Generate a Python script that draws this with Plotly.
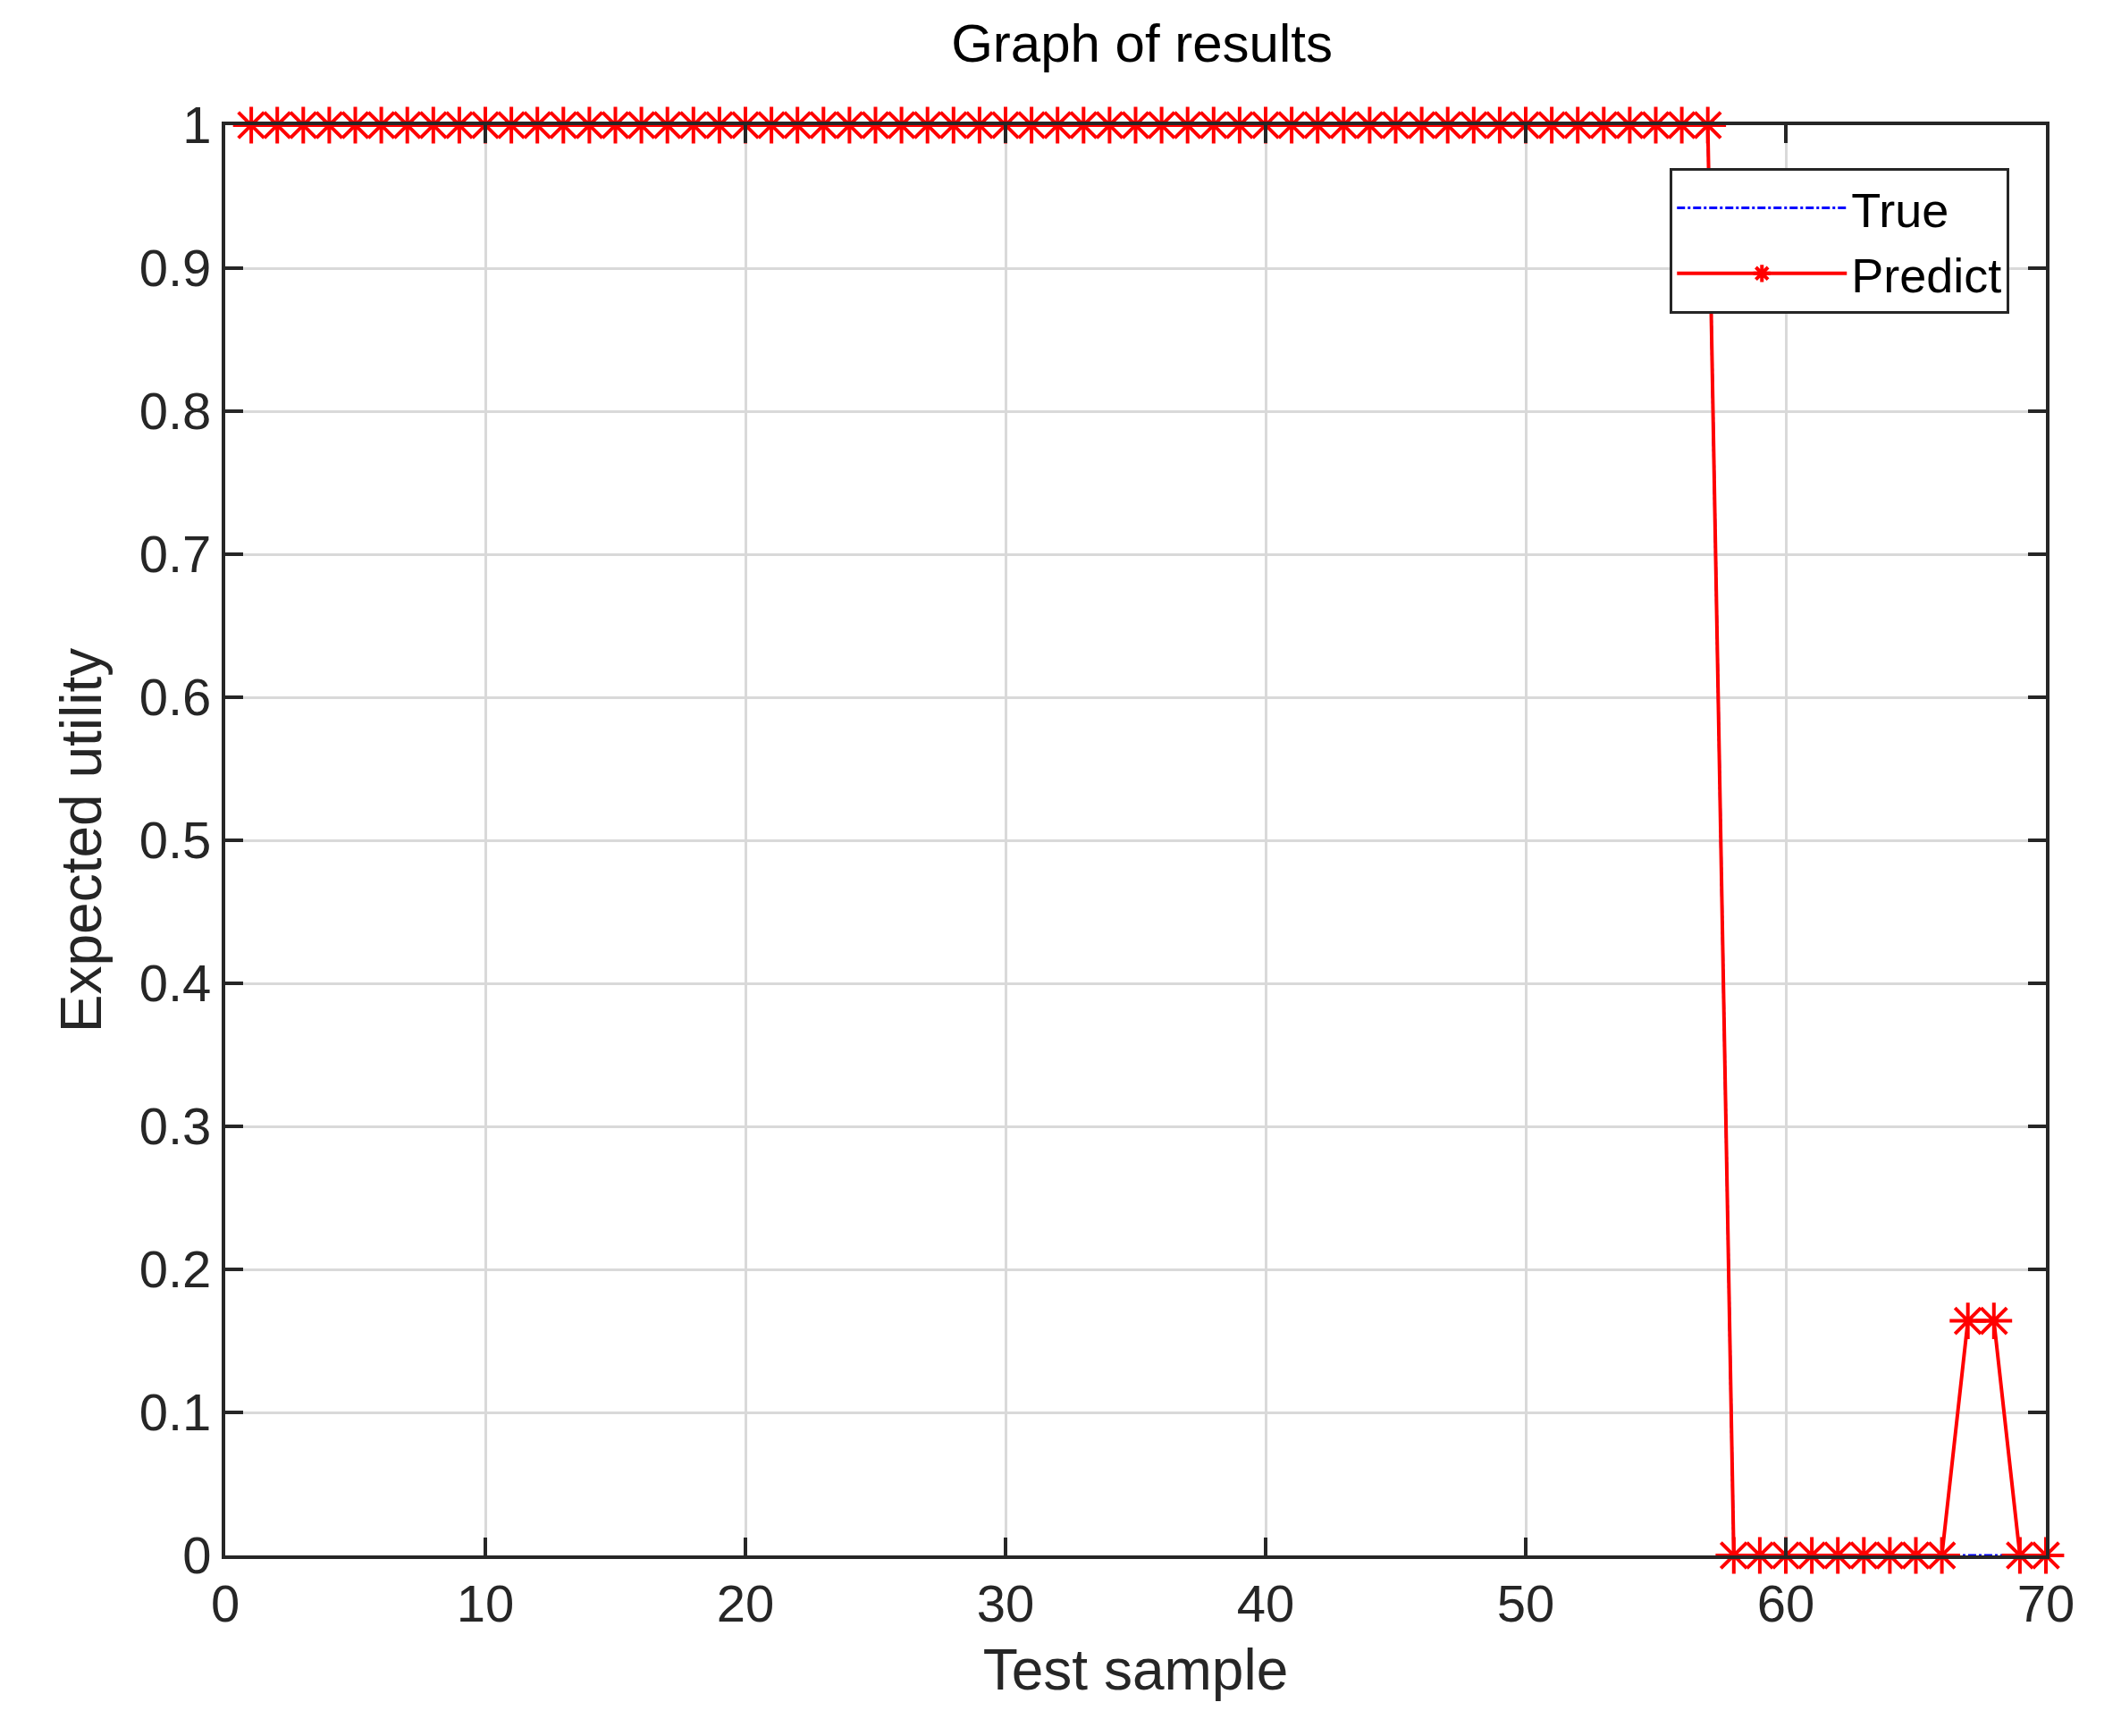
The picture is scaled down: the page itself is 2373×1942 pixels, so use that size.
import plotly.graph_objects as go

x_vals = list(range(1, 71))
true_vals = [1]*57 + [0]*13
pred_vals = [1]*57 + [0]*9 + [0.164, 0.164] + [0, 0]
x_ticks = [0, 10, 20, 30, 40, 50, 60, 70]
y_ticks = [0, 0.1, 0.2, 0.3, 0.4, 0.5, 0.6, 0.7, 0.8, 0.9, 1]
y_tick_text = ["0", "0.1", "0.2", "0.3", "0.4", "0.5", "0.6", "0.7", "0.8", "0.9", "1"]

fig = go.Figure()
fig.add_trace(go.Scatter(x=x_vals, y=true_vals, mode="lines", name="True",
                         line=dict(color="blue", width=3, dash="dashdot"), cliponaxis=False))
fig.add_trace(go.Scatter(x=x_vals, y=pred_vals, mode="lines+markers", name="Predict",
                         line=dict(color="red", width=4), cliponaxis=False,
                         marker=dict(symbol="asterisk-open", size=34,
                                     line=dict(color="red", width=4))))

font = "Liberation Sans, Arial, sans-serif"
ax = dict(showline=True, linecolor="#262626", linewidth=4, mirror="ticks",
          ticks="inside", ticklen=20, tickwidth=4, tickcolor="#262626",
          showgrid=True, gridcolor="#d9d9d9", gridwidth=3, zeroline=False,
          tickfont=dict(family=font, size=58, color="#262626"))
fig.update_xaxes(range=[0, 70], tickvals=x_ticks,
                 title=dict(text="Test sample", font=dict(family=font, size=64, color="#262626"), standoff=22), **ax)
fig.update_yaxes(range=[0, 1], tickvals=y_ticks, ticktext=y_tick_text,
                 title=dict(text="Expected utility", font=dict(family=font, size=64, color="#262626"), standoff=22), **ax)
fig.update_layout(
    width=2373, height=1942,
    margin=dict(l=244, r=92, t=132, b=210),
    paper_bgcolor="white", plot_bgcolor="white",
    title=dict(text="Graph of results", x=0.535, xanchor="center", y=0.99, yanchor="top",
               font=dict(family=font, size=60, color="black")),
    legend=dict(x=0.98, y=0.97, xanchor="right", yanchor="top",
                bordercolor="#262626", borderwidth=3, bgcolor="white",
                font=dict(family=font, size=54, color="black"), itemwidth=190),
    showlegend=True,
)
fig.write_html("out.html")
